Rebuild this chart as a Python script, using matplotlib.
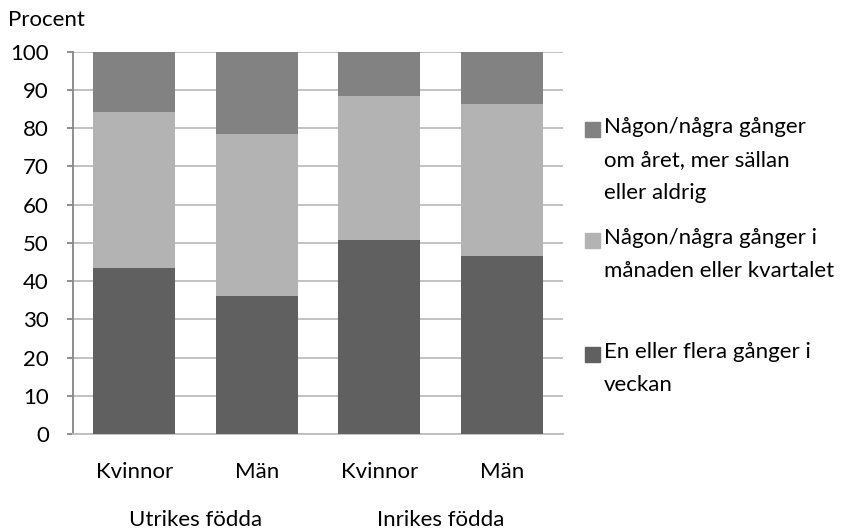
import matplotlib
matplotlib.use("Agg")
import matplotlib.pyplot as plt
from matplotlib.patches import Rectangle
import numpy as np

categories = ["Kvinnor", "Män", "Kvinnor", "Män"]
groups = ["Utrikes födda", "Inrikes födda"]
weekly = [43.5, 36.1, 50.7, 46.6]
monthly = [40.8, 42.4, 37.7, 39.8]
yearly = [15.7, 21.5, 11.6, 13.6]
series_labels = [
    "En eller flera gånger i\nveckan",
    "Någon/några gånger i\nmånaden eller kvartalet",
    "Någon/några gånger\nom året, mer sällan\neller aldrig",
]
colors = ["#606060", "#b3b3b3", "#828282"]
yticks = list(range(0, 101, 10))

plt.rcParams['font.family'] = ['Lato', 'DejaVu Sans']
FS = 16
W, H = 861, 530
fig = plt.figure(figsize=(W / 100, H / 100), dpi=100)
ax = fig.add_axes([73 / W, (H - 434) / H, (563 - 73) / W, (434 - 51.7) / H])

x = np.arange(len(categories))
bottom = np.zeros(len(categories))
for vals, c in zip([weekly, monthly, yearly], colors):
    ax.bar(x, vals, width=0.67, bottom=bottom, color=c, zorder=3)
    bottom += np.array(vals)

ax.set_xlim(-0.5, len(categories) - 0.5)
ax.set_ylim(0, 100)
ax.set_yticks(yticks)
ax.yaxis.grid(True, color="#bdbdbd", linewidth=1.3, zorder=0)
for s in ["top", "right"]:
    ax.spines[s].set_visible(False)
ax.spines["left"].set_color("#868686")
ax.spines["bottom"].set_color("#bdbdbd")
ax.spines["left"].set_linewidth(1.3)
ax.spines["bottom"].set_linewidth(1.3)
ax.tick_params(axis="y", length=4.3, color="#868686", width=1.3, labelsize=FS, pad=13)
ax.tick_params(axis="x", length=0, labelsize=FS, pad=20)
ax.set_xticks(x)
ax.set_xticklabels(categories)

fig.text(8 / W, 1 - 20 / H, "Procent", fontsize=FS, va="center", ha="left")
for i, g in enumerate(groups):
    gx = ax.transData.transform((2 * i + 0.5, 0))[0] / W
    fig.text(gx, 1 - 520 / H, g, fontsize=FS, ha="center", va="center")

# legend (top series first)
leg_y = [129, 240, 354]
for lab, c, yy in zip(series_labels[::-1], colors[::-1], leg_y):
    fig.patches.append(Rectangle((585 / W, 1 - (yy + 7.5) / H), 15 / W, 15 / H,
                                 transform=fig.transFigure, color=c))
    fig.text(604 / W, 1 - (yy - 12) / H, lab, fontsize=FS, ha="left", va="top",
             linespacing=1.8)

fig.savefig("out.png", dpi=100)
